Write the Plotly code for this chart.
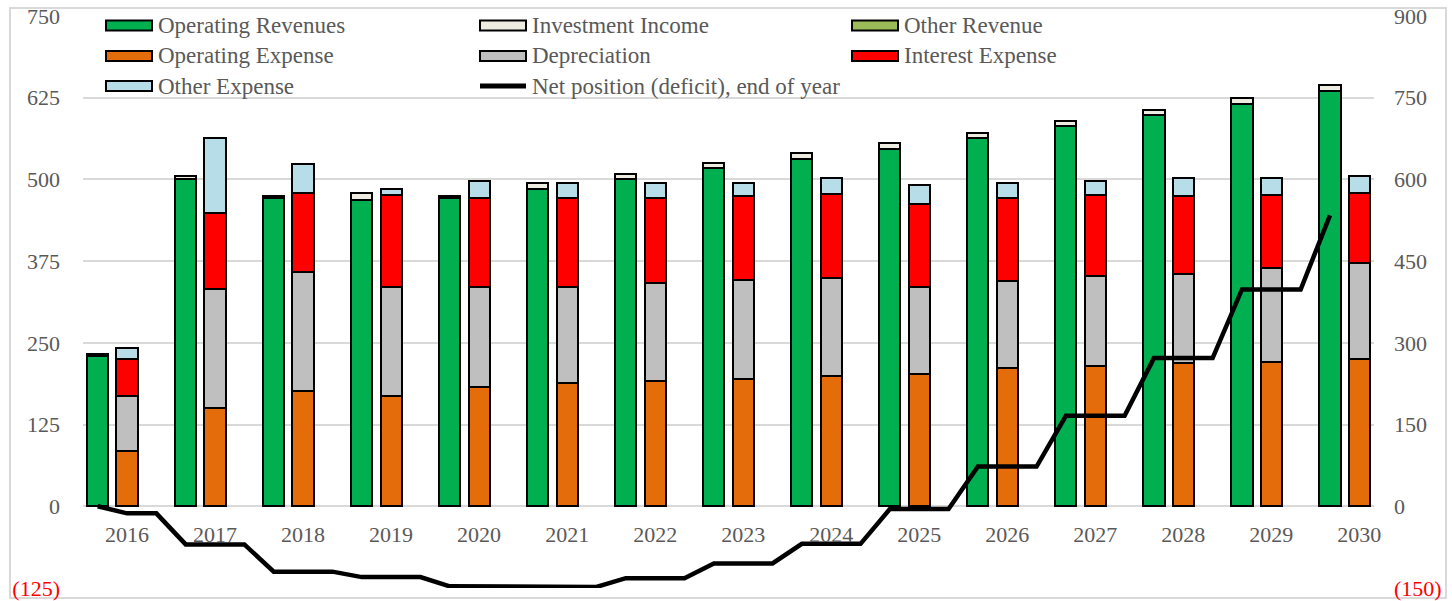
import plotly.graph_objects as go

# ---- data -------------------------------------------------------------
years = list(range(2016, 2031))

operating_revenues = [230, 500, 471, 468, 471, 486, 500, 517, 532, 547, 563, 582, 598, 616, 636]
investment_income = [3, 5, 4, 11, 4, 8, 9, 8, 9, 8, 8, 8, 8, 9, 8]
other_revenue = [0, 0, 0, 0, 0, 0, 0, 0, 0, 0, 0, 0, 0, 0, 0]

operating_expense = [84, 150, 176, 168, 183, 188, 191, 194, 199, 203, 211, 214, 219, 220, 225]
depreciation = [84, 183, 183, 168, 153, 148, 150, 152, 150, 133, 133, 138, 137, 144, 147]
interest_expense = [58, 115, 120, 140, 135, 135, 130, 128, 129, 127, 127, 124, 118, 112, 107]
other_expense = [16, 116, 45, 10, 27, 23, 23, 20, 24, 28, 24, 22, 28, 26, 26]

net_position_start = 0
net_position = [-13, -70, -120, -130, -147, -148, -132, -105, -69, -5, 73, 166, 272, 398, 534]

left_ticks = [-125, 0, 125, 250, 375, 500, 625, 750]
right_ticks = [-150, 0, 150, 300, 450, 600, 750, 900]

# ---- styling ----------------------------------------------------------
FONT = "Times New Roman, Liberation Serif, serif"
TXT = "#595959"
NEG = "#FF0000"
GRID = "#D9D9D9"

revenue_series = [
    ("Operating Revenues", operating_revenues, "#00B050"),
    ("Investment Income", investment_income, "#EEECE1"),
    ("Other Revenue", other_revenue, "#9BBB59"),
]
expense_series = [
    ("Operating Expense", operating_expense, "#E46C0A"),
    ("Depreciation", depreciation, "#BFBFBF"),
    ("Interest Expense", interest_expense, "#FF0000"),
    ("Other Expense", other_expense, "#B7DEE8"),
]
LINE_NAME = "Net position (deficit), end of year"

# each year occupies three slots: revenue column, expense column, spacer
SLOTS = 3
rev_x = [SLOTS * i for i in range(len(years))]
exp_x = [SLOTS * i + 1 for i in range(len(years))]
BAR_W = 0.72

fig = go.Figure()

for name, vals, color in revenue_series:
    fig.add_trace(go.Bar(
        x=rev_x, y=vals, name=name, width=BAR_W, showlegend=False,
        marker=dict(color=color, line=dict(color="black", width=2)),
    ))
for name, vals, color in expense_series:
    fig.add_trace(go.Bar(
        x=exp_x, y=vals, name=name, width=BAR_W, showlegend=False,
        marker=dict(color=color, line=dict(color="black", width=2)),
    ))

# net position line: starts at the opening balance, holds each year-end value
# across that year's slots, and ends on the final year's revenue column
line_x = [rev_x[0]]
line_y = [net_position_start]
for i, v in enumerate(net_position):
    if i == 0:
        slots = [rev_x[i] + 1, rev_x[i] + 2]
    elif i == len(net_position) - 1:
        slots = [rev_x[i]]
    else:
        slots = [rev_x[i], rev_x[i] + 1, rev_x[i] + 2]
    for s in slots:
        line_x.append(s)
        line_y.append(v)

fig.add_trace(go.Scatter(
    x=line_x, y=line_y, name=LINE_NAME, mode="lines", yaxis="y2",
    showlegend=False, line=dict(color="black", width=4.5, shape="linear"),
))


def fmt(v):
    if v < 0:
        return f'<span style="color:{NEG}">({abs(v)})</span>'
    return str(v)


# ---- layout geometry (pixels) ----------------------------------------
W, H = 1452, 601
ML, MR, MT, MB = 83, 78, 16, 13
PW, PH = W - ML - MR, H - MT - MB


def px_to_paper(x, y):
    return (x - ML) / PW, (H - MB - y) / PH


zero_frac = (0 - left_ticks[0]) / (left_ticks[-1] - left_ticks[0])

fig.update_layout(
    width=W, height=H,
    margin=dict(l=ML, r=MR, t=MT, b=MB, autoexpand=False),
    paper_bgcolor="white", plot_bgcolor="white",
    barmode="stack", bargap=0,
    font=dict(family=FONT, size=22, color=TXT),
    xaxis=dict(
        range=[-0.5, SLOTS * len(years) - 1.5],
        tickmode="array", tickvals=exp_x, ticktext=[str(y) for y in years],
        showgrid=False, zeroline=False, showline=False, ticks="",
        anchor="free", position=zero_frac, ticklabelstandoff=13, automargin=False,
        tickfont=dict(family=FONT, size=22, color=TXT),
    ),
    yaxis=dict(
        range=[left_ticks[0], left_ticks[-1]],
        tickmode="array", tickvals=left_ticks, ticktext=[fmt(v) for v in left_ticks],
        showgrid=True, gridcolor=GRID, gridwidth=2, zeroline=False, showline=False,
        ticks="", ticklabelstandoff=22, automargin=False,
        tickfont=dict(family=FONT, size=22, color=TXT),
    ),
    yaxis2=dict(
        range=[right_ticks[0], right_ticks[-1]], overlaying="y", side="right",
        tickmode="array", tickvals=right_ticks, ticktext=[fmt(v) for v in right_ticks],
        showgrid=False, zeroline=False, showline=False, ticks="", ticklabelstandoff=19,
        automargin=False,
        tickfont=dict(family=FONT, size=22, color=TXT),
    ),
)

# ---- chart frame ------------------------------------------------------
x0, y0 = px_to_paper(10, 8)
x1, y1 = px_to_paper(1446, 598)
fig.add_shape(type="rect", xref="paper", yref="paper", x0=x0, y0=y1, x1=x1, y1=y0,
              line=dict(color=GRID, width=2), fillcolor="rgba(0,0,0,0)", layer="below")

# ---- legend (three columns) ------------------------------------------
legend_items = [
    (revenue_series[0][0], revenue_series[0][2], "bar"),
    (revenue_series[1][0], revenue_series[1][2], "bar"),
    (revenue_series[2][0], revenue_series[2][2], "bar"),
    (expense_series[0][0], expense_series[0][2], "bar"),
    (expense_series[1][0], expense_series[1][2], "bar"),
    (expense_series[2][0], expense_series[2][2], "bar"),
    (expense_series[3][0], expense_series[3][2], "bar"),
    (LINE_NAME, "black", "line"),
]
col_x = [106, 480, 852]
row_y = [25.5, 56, 86]
SW, SH = 46, 10
for k, (name, color, kind) in enumerate(legend_items):
    cx = col_x[k % 3]
    cy = row_y[k // 3]
    if kind == "bar":
        a, b = px_to_paper(cx, cy - SH / 2)
        c, d = px_to_paper(cx + SW, cy + SH / 2)
        fig.add_shape(type="rect", xref="paper", yref="paper", x0=a, y0=d, x1=c, y1=b,
                      fillcolor=color, line=dict(color="black", width=2))
    else:
        a, b = px_to_paper(cx, cy)
        c, _ = px_to_paper(cx + SW, cy)
        fig.add_shape(type="line", xref="paper", yref="paper", x0=a, y0=b, x1=c, y1=b,
                      line=dict(color=color, width=5))
    tx, ty = px_to_paper(cx + SW + 4, cy)
    fig.add_annotation(xref="paper", yref="paper", x=tx, y=ty, text=name,
                       showarrow=False, xanchor="left", yanchor="middle",
                       font=dict(family=FONT, size=23, color=TXT))

fig.write_html("out.html")
